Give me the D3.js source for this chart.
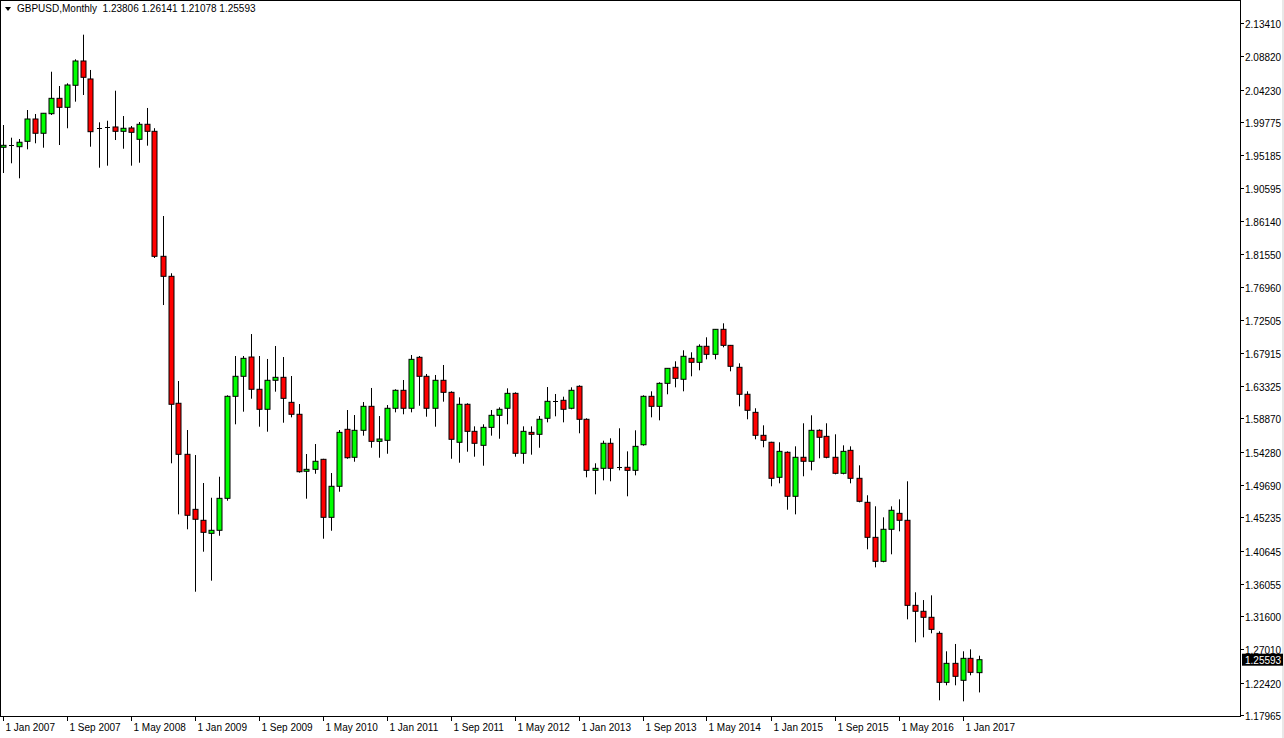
<!DOCTYPE html>
<html><head><meta charset="utf-8">
<script src="https://cdn.jsdelivr.net/npm/d3@7"></script>
<style>body{margin:0;background:#fff}svg{display:block}text{font-family:"Liberation Sans",Arial,sans-serif}</style>
</head><body><svg id="c" width="1284" height="738"></svg>
<script>
const title = "GBPUSD,Monthly  1.23806 1.26141 1.21078 1.25593";
const opens  = [1.9627,1.9645,1.9635,1.9709,2.0017,1.9820,2.0090,2.0302,2.0178,2.0482,2.0817,2.0569,1.9885,1.9893,1.9907,1.9847,1.9893,1.9737,1.9944,1.9847,1.8123,1.7847,1.6096,1.5392,1.4633,1.4482,1.4302,1.4344,1.4785,1.6192,1.6468,1.6734,1.6289,1.6013,1.6413,1.6454,1.6109,1.5944,1.5158,1.5185,1.5323,1.4523,1.4951,1.5737,1.5351,1.5723,1.6054,1.5571,1.5585,1.6027,1.6275,1.6027,1.6730,1.6468,1.6027,1.6413,1.6247,1.5558,1.6082,1.5709,1.5516,1.5764,1.5930,1.6027,1.6233,1.5406,1.5695,1.5668,1.5889,1.6123,1.6137,1.6027,1.6330,1.5875,1.5171,1.5199,1.5544,1.5216,1.5213,1.5171,1.5524,1.6192,1.6054,1.6371,1.6592,1.6427,1.6716,1.6661,1.6882,1.6771,1.7116,1.6895,1.6592,1.6220,1.5971,1.5654,1.5558,1.5075,1.5420,1.4813,1.5351,1.5296,1.5723,1.5640,1.5351,1.5130,1.5447,1.5061,1.4730,1.4247,1.3916,1.4358,1.4578,1.4482,1.3309,1.3227,1.3144,1.2923,1.2247,1.2509,1.2275,1.2578,1.23806];
const highs  = [1.9934,1.9759,1.9741,2.0141,2.0086,2.0100,2.0669,2.0472,2.0509,2.0840,2.1180,2.0693,1.9971,1.9993,2.0407,2.0058,1.9920,1.9975,2.0169,1.9890,1.8679,1.7889,1.6403,1.5727,1.5382,1.4996,1.4793,1.5083,1.6206,1.6748,1.6748,1.7051,1.6748,1.6707,1.6886,1.6734,1.6472,1.6086,1.5396,1.5534,1.5330,1.5134,1.5727,1.6003,1.5934,1.6113,1.6307,1.5920,1.6072,1.6289,1.6417,1.6762,1.6748,1.6500,1.6486,1.6624,1.6261,1.6178,1.6096,1.5778,1.5806,1.6003,1.6040,1.6302,1.6247,1.5778,1.5778,1.5920,1.6320,1.6224,1.6187,1.6316,1.6344,1.5889,1.5268,1.5580,1.5613,1.5751,1.5433,1.5723,1.6206,1.6261,1.6385,1.6580,1.6675,1.6827,1.6799,1.6909,1.7006,1.7120,1.7199,1.6900,1.6647,1.6261,1.6027,1.5792,1.5565,1.5558,1.5433,1.5502,1.5820,1.5930,1.5737,1.5820,1.5668,1.5516,1.5502,1.5240,1.4827,1.4675,1.4523,1.4675,1.4771,1.5020,1.3489,1.3382,1.3447,1.2951,1.2675,1.2776,1.2675,1.2702,1.26141];
const lows   = [1.9272,1.9406,1.9199,1.9599,1.9682,1.9621,2.0072,1.9658,1.9889,2.0256,2.0348,1.9635,1.9345,1.9373,1.9727,1.9607,1.9373,1.9414,1.9649,1.8100,1.7451,1.5268,1.4564,1.4358,1.3497,1.4049,1.3649,1.4269,1.4752,1.5806,1.5980,1.6159,1.5773,1.5704,1.6256,1.5828,1.5902,1.5140,1.4780,1.5124,1.4228,1.4338,1.4876,1.5331,1.5290,1.5649,1.5483,1.5345,1.5400,1.5971,1.5944,1.5971,1.6062,1.5911,1.5773,1.6118,1.5331,1.5276,1.5428,1.5359,1.5235,1.5649,1.5607,1.5806,1.5359,1.5262,1.5387,1.5483,1.5833,1.5916,1.5833,1.6013,1.5682,1.5075,1.4840,1.5033,1.5020,1.5171,1.4813,1.5102,1.5511,1.5902,1.5861,1.6220,1.6316,1.6261,1.6468,1.6551,1.6702,1.6702,1.6868,1.6537,1.6054,1.5875,1.5599,1.5489,1.4951,1.4992,1.4628,1.4564,1.5089,1.5171,1.5337,1.5337,1.5116,1.5116,1.4992,1.4730,1.4082,1.3833,1.3903,1.4013,1.4330,1.3116,1.2799,1.2868,1.2923,1.1999,1.2206,1.2206,1.1985,1.2344,1.21078];
const closes = [1.9654,1.9652,1.9696,2.0017,1.9820,2.0096,2.0302,2.0178,2.0486,2.0817,2.0592,1.9842,1.9893,1.9900,1.9847,1.9889,1.9833,1.9944,1.9847,1.8123,1.7847,1.6082,1.5392,1.4551,1.4496,1.4316,1.4344,1.4785,1.6192,1.6468,1.6716,1.6289,1.6013,1.6413,1.6454,1.6164,1.5944,1.5152,1.5185,1.5296,1.4523,1.4951,1.5695,1.5345,1.5723,1.6054,1.5571,1.5603,1.6027,1.6275,1.6027,1.6702,1.6468,1.6027,1.6413,1.6247,1.5599,1.6082,1.5709,1.5544,1.5764,1.5930,1.6013,1.6233,1.5406,1.5709,1.5668,1.5875,1.6123,1.6130,1.6013,1.6275,1.5875,1.5171,1.5199,1.5544,1.5199,1.5210,1.5171,1.5502,1.6192,1.6054,1.6371,1.6578,1.6440,1.6744,1.6661,1.6882,1.6771,1.7116,1.6895,1.6606,1.6220,1.5999,1.5654,1.5585,1.5061,1.5433,1.4813,1.5351,1.5296,1.5723,1.5627,1.5351,1.5130,1.5433,1.5061,1.4744,1.4247,1.3916,1.4358,1.4620,1.4482,1.3309,1.3227,1.3144,1.2978,1.2247,1.2509,1.2330,1.2578,1.2385,1.25593];
const yTicks = [2.13410,2.08820,2.04230,1.99775,1.95185,1.90595,1.86140,1.81550,1.76960,1.72505,1.67915,1.63325,1.58870,1.54280,1.49690,1.45235,1.40645,1.36055,1.31600,1.27010,1.22420,1.17965];
const xLabels = ["1 Jan 2007","1 Sep 2007","1 May 2008","1 Jan 2009","1 Sep 2009","1 May 2010","1 Jan 2011","1 Sep 2011","1 May 2012","1 Jan 2013","1 Sep 2013","1 May 2014","1 Jan 2015","1 Sep 2015","1 May 2016","1 Jan 2017"];
const lastPrice = "1.25593";

const svg = d3.select("#c");
const W=1240, B=716;
const x = d3.scaleLinear().domain([0,120]).range([2.5,962.5]);
const y = d3.scaleLinear().domain([1.17965,2.13410]).range([715,23]);

svg.append("rect").attr("x",0.5).attr("y",0.5).attr("width",W).attr("height",B).attr("fill","#fff").attr("stroke","#000");
svg.append("rect").attr("x",1282).attr("y",0).attr("width",2).attr("height",738).attr("fill","#e8e8e8");

const data = opens.map((o,i)=>({i,o,h:highs[i],l:lows[i],c:closes[i]}));
const g = svg.append("g");
data.forEach(d=>{
  const cx = Math.round(x(d.i))+0.5;
  g.append("line").attr("x1",cx).attr("x2",cx).attr("y1",y(d.h)).attr("y2",y(d.l)).attr("stroke","#000").attr("stroke-width",1);
  const top=Math.min(y(d.o),y(d.c)), bot=Math.max(y(d.o),y(d.c));
  const up=d.c>=d.o;
  if (bot-top<1.5){
    g.append("line").attr("x1",cx-2.5).attr("x2",cx+2.5).attr("y1",Math.round(top)+0.5).attr("y2",Math.round(top)+0.5).attr("stroke","#000");
  } else {
    g.append("rect").attr("x",cx-2.5).attr("y",top).attr("width",5).attr("height",bot-top)
     .attr("fill",up?"#00ff00":"#ff0000").attr("stroke","#000").attr("stroke-width",1);
  }
});

yTicks.forEach(t=>{
  const yy=Math.round(y(t))+0.5;
  svg.append("line").attr("x1",W).attr("x2",W+4).attr("y1",yy).attr("y2",yy).attr("stroke","#000");
  svg.append("text").attr("x",W+5).attr("y",yy+4).attr("font-size",10).attr("fill","#000").text(t.toFixed(5));
});
const ly = y(+lastPrice);
svg.append("rect").attr("x",W+2).attr("y",ly-6).attr("width",41).attr("height",12).attr("fill","#000");
svg.append("text").attr("x",W+5).attr("y",ly+4).attr("font-size",10).attr("fill","#fff").text(lastPrice);

xLabels.forEach((t,k)=>{
  const xx=Math.round(x(k*8))+0.5;
  svg.append("line").attr("x1",xx).attr("x2",xx).attr("y1",B).attr("y2",B+5).attr("stroke","#000");
  svg.append("text").attr("x",xx+2).attr("y",731).attr("font-size",10).attr("fill","#000").text(t);
});

svg.append("path").attr("d","M5,7 L11,7 L8,11 Z").attr("fill","#000");
svg.append("text").attr("x",17).attr("y",12).attr("font-size",10).attr("fill","#000").attr("xml:space","preserve").text(title);
</script></body></html>
